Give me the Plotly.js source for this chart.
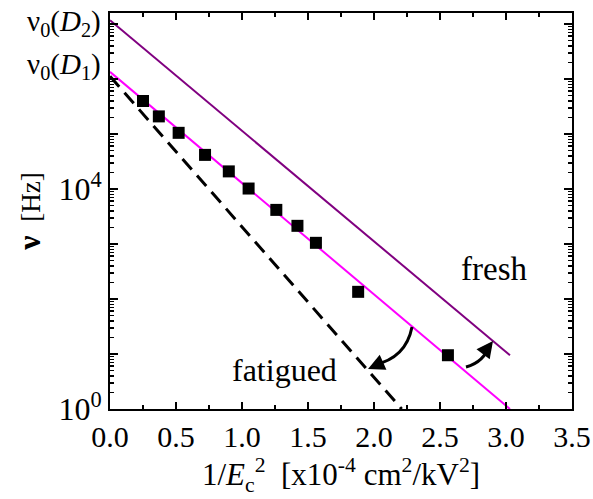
<!DOCTYPE html>
<html>
<head>
<meta charset="utf-8">
<script src="https://cdn.plot.ly/plotly-3.0.1.min.js"></script>
<style>html,body{margin:0;padding:0;background:#fff}#chart{width:593px;height:499px}</style>
</head>
<body>
<div id="chart"></div>
<script>
// measured points (1/Ec^2 in 1e-4 cm^2/kV^2, frequency in Hz)
const invEc2 = [0.25, 0.37, 0.52, 0.72, 0.90, 1.05, 1.26, 1.42, 1.56, 1.88, 2.56];
const freqHz = [3.98e5, 2.09e5, 1.05e5, 4.17e4, 2.09e4, 1.02e4, 4.17e3, 2.14e3, 1.05e3, 135, 9.5];

// fit lines (end points)
const fitX = [0.0, 3.03];
const fitD2 = [1.17e7, 9.5];     // fresh, nu0(D2)
const fitD1 = [1.35e6, 1.0];     // nu0(D1)
const fatX = [0.0, 2.21];
const fatY = [1.12e6, 1.0];      // fatigued (dashed)

// y ticks
const yDecades = [1, 10, 100, 1e3, 1e4, 1e5, 1e6, 1e7];
const yTickText = ['10<sup>0</sup>', ' ', ' ', ' ', '10<sup>4</sup>', ' ', ' ', ' '];

// minor tick positions 2..9 x 10^k
const yMinor = [];
for (let k = 0; k < 8; k++) for (let m = 2; m <= 9; m++) yMinor.push(m * Math.pow(10, k));

const FONT = '"Times New Roman", Times, "Liberation Serif", "DejaVu Serif", serif';

const traces = [
  {x: fitX, y: fitD2, mode: 'lines', line: {color: '#800080', width: 2}, hoverinfo: 'skip'},
  {x: fitX, y: fitD1, mode: 'lines', line: {color: '#ff00ff', width: 2}, hoverinfo: 'skip'},
  {x: fatX, y: fatY, mode: 'lines', line: {color: '#000000', width: 3, dash: '14px,8px'}, hoverinfo: 'skip'},
  {x: invEc2, y: freqHz, mode: 'markers', marker: {symbol: 'square', size: 12, color: '#000000'}}
];

function px(p){ return (p - 110) / 462; }
function py(p){ return (409 - p) / 396; }

const layout = {
  width: 593, height: 499,
  margin: {l: 110, r: 21, t: 13, b: 90},
  paper_bgcolor: '#ffffff', plot_bgcolor: '#ffffff',
  showlegend: false,
  font: {family: FONT, color: '#000000', size: 28},
  xaxis: {
    range: [0, 3.5], dtick: 0.5, tick0: 0, tickformat: '.1f',
    ticks: 'inside', ticklen: 7, tickwidth: 2, tickcolor: '#000',
    minor: {dtick: 0.25, tick0: 0, ticks: 'inside', ticklen: 4, tickwidth: 1.5, tickcolor: '#000'},
    showline: true, linewidth: 2, linecolor: '#000', mirror: 'ticks',
    showgrid: false, zeroline: false,
    tickfont: {family: FONT, size: 30},
    title: {text: '1/<i>E</i><sub>c</sub><sup>2</sup>  [x10<sup>-4</sup> cm<sup>2</sup>/kV<sup>2</sup>]',
            font: {family: FONT, size: 31}, standoff: 4}
  },
  yaxis: {
    type: 'log', range: [0, 7.2],
    tickmode: 'array', tickvals: yDecades, ticktext: yTickText,
    ticks: 'inside', ticklen: 8, tickwidth: 2, tickcolor: '#000',
    minor: {tickmode: 'array', tickvals: yMinor, ticks: 'inside', ticklen: 4, tickwidth: 1.5, tickcolor: '#000'},
    showline: true, linewidth: 2, linecolor: '#000', mirror: 'ticks',
    showgrid: false, zeroline: false,
    tickfont: {family: FONT, size: 32},
    title: {text: '<b><span style="font-size:32px">ν</span></b>\u00A0\u00A0[Hz]\u00A0\u00A0\u00A0\u00A0\u00A0\u00A0',
            font: {family: FONT, size: 27}, standoff: 10}
  },
  shapes: [
    {type: 'path', xref: 'paper', yref: 'paper',
     path: 'M ' + px(412) + ',' + py(327) + ' Q ' + px(406) + ',' + py(358) + ' ' + px(374) + ',' + py(365),
     line: {color: '#000', width: 3}},
    {type: 'path', xref: 'paper', yref: 'paper',
     path: 'M ' + px(466) + ',' + py(367) + ' Q ' + px(484) + ',' + py(362) + ' ' + px(489) + ',' + py(346),
     line: {color: '#000', width: 3}}
  ],
  annotations: [
    {xref: 'paper', yref: 'paper', x: px(103), y: py(23), xanchor: 'right', yanchor: 'middle',
     text: 'ν<sub>0</sub>(<i>D</i><sub>2</sub>)', showarrow: false, font: {family: FONT, size: 29}},
    {xref: 'paper', yref: 'paper', x: px(103), y: py(66), xanchor: 'right', yanchor: 'middle',
     text: 'ν<sub>0</sub>(<i>D</i><sub>1</sub>)', showarrow: false, font: {family: FONT, size: 29}},
    {xref: 'paper', yref: 'paper', x: px(494), y: py(269), xanchor: 'center', yanchor: 'middle',
     text: 'fresh', showarrow: false, font: {family: FONT, size: 33}},
    {xref: 'paper', yref: 'paper', x: px(284), y: py(370), xanchor: 'center', yanchor: 'middle',
     text: 'fatigued', showarrow: false, font: {family: FONT, size: 32}},
    {xref: 'paper', yref: 'paper', x: px(368), y: py(369), ax: 9, ay: -4, text: '',
     showarrow: true, arrowhead: 2, arrowsize: 1.1, arrowwidth: 3, arrowcolor: '#000', standoff: 0},
    {xref: 'paper', yref: 'paper', x: px(493), y: py(341), ax: -6, ay: 8, text: '',
     showarrow: true, arrowhead: 2, arrowsize: 1.1, arrowwidth: 3, arrowcolor: '#000', standoff: 0}
  ]
};

Plotly.newPlot('chart', traces, layout, {displayModeBar: false, staticPlot: true});
</script>
</body>
</html>
